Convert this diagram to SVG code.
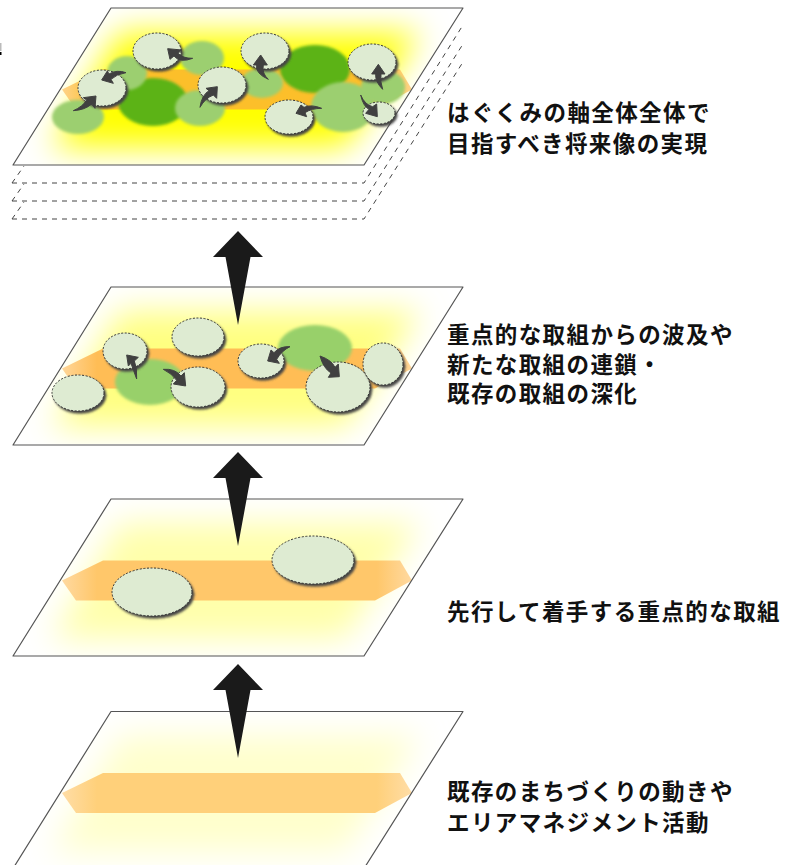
<svg xmlns="http://www.w3.org/2000/svg" width="800" height="865" viewBox="0 0 800 865">
<style>
.plane{fill:#fff;stroke:none}
.outline{fill:none;stroke:#555;stroke-width:1.2;stroke-linejoin:round}
.stack{fill:none;stroke:#444;stroke-width:1;stroke-dasharray:5 5}
.pale{fill:#deebd2;stroke:#333;stroke-width:1;stroke-dasharray:2 1.6;filter:url(#shadow)}
.lg{fill:#9ccf70;filter:url(#soft)}
.lg2{fill:#98d06a;filter:url(#soft)}
.dg{fill:#5bb318;filter:url(#soft)}
.glow{filter:url(#blur)}
.curve{fill:#404040;stroke:#404040;stroke-width:3;stroke-linejoin:round}
.big{fill:#1a1a1a}
text{font-family:"Noto Sans CJK JP","Noto Sans",sans-serif;font-weight:700;font-size:22.5px;letter-spacing:1.4px;fill:#111}
</style>
<defs>
<filter id="blur" x="-30%" y="-50%" width="160%" height="200%"><feGaussianBlur stdDeviation="16"/></filter>
<filter id="soft" x="-20%" y="-20%" width="140%" height="140%"><feGaussianBlur stdDeviation="1.6"/></filter>
<filter id="shadow" x="-20%" y="-20%" width="150%" height="150%"><feDropShadow dx="2" dy="2.4" stdDeviation="1" flood-color="#444"/></filter>
<clipPath id="pclip"><polygon points="111,0 463,0 364,157 13,157"/></clipPath>
<polygon id="glowshape" points="120,24 420,24 345,140 52,140"/>
<polygon id="band" points="103,61.5 400,61.5 412,81.5 375,101.5 76,101.5 62,81.5"/>
<linearGradient id="b1" x1="62" x2="412" y1="0" y2="0" gradientUnits="userSpaceOnUse"><stop offset="0" stop-color="#ffd38a"/><stop offset=".1" stop-color="#fcbf2a"/><stop offset=".9" stop-color="#fcbf2a"/><stop offset="1" stop-color="#ffd38a"/></linearGradient>
<linearGradient id="b2" x1="62" x2="412" y1="0" y2="0" gradientUnits="userSpaceOnUse"><stop offset="0" stop-color="#ffd699"/><stop offset=".1" stop-color="#ffbd55"/><stop offset=".9" stop-color="#ffbd55"/><stop offset="1" stop-color="#ffd699"/></linearGradient>
<linearGradient id="b3" x1="62" x2="412" y1="0" y2="0" gradientUnits="userSpaceOnUse"><stop offset="0" stop-color="#ffd9a0"/><stop offset=".1" stop-color="#ffc76a"/><stop offset=".9" stop-color="#ffc76a"/><stop offset="1" stop-color="#ffd9a0"/></linearGradient>
<linearGradient id="b4" x1="62" x2="412" y1="0" y2="0" gradientUnits="userSpaceOnUse"><stop offset="0" stop-color="#ffdda6"/><stop offset=".1" stop-color="#ffd07a"/><stop offset=".9" stop-color="#ffd07a"/><stop offset="1" stop-color="#ffdda6"/></linearGradient>
<polygon id="bigarrow" points="0,0 25,26 12.5,26 0,94 -12.5,26 -25,26"/>
</defs>

<g id="stray-mark"><rect x="0" y="43" width="1.5" height="8" fill="#bbb"/><rect x="0" y="52" width="1.5" height="3" fill="#000"/></g>

<g id="plane-top">
<path class="stack" d="M12,183L24,166M12,183H364L463,25"/>
<path class="stack" d="M12,201L24,184M12,201H364L463,44"/>
<path class="stack" d="M12,219L24,202M12,219H364L463,62"/>
<polygon class="plane" points="111,8 463,8 364,165 13,165"/>
<g transform="translate(0,8)"><g clip-path="url(#pclip)"><use href="#glowshape" class="glow" fill="#ffff00"/></g><use href="#band" fill="url(#b1)"/></g>
<polygon class="outline" points="111,8 463,8 364,165 13,165"/>
<ellipse class="dg" cx="153" cy="102" rx="35" ry="24"/>
<ellipse class="dg" cx="315" cy="69" rx="35" ry="24"/>
<ellipse class="lg" cx="78" cy="117" rx="26" ry="17"/>
<ellipse class="lg" cx="127" cy="73" rx="20" ry="17"/>
<ellipse class="lg" cx="202" cy="58" rx="22" ry="17"/>
<ellipse class="lg" cx="200" cy="108" rx="25" ry="18"/>
<ellipse class="lg" cx="262" cy="83" rx="21" ry="15"/>
<ellipse class="lg" cx="343" cy="107" rx="32" ry="25"/>
<ellipse class="lg" cx="383" cy="87" rx="22" ry="17"/>
<ellipse class="pale" cx="157" cy="51" rx="24" ry="18"/>
<ellipse class="pale" cx="102" cy="88" rx="24" ry="18"/>
<ellipse class="pale" cx="222" cy="85" rx="24" ry="18"/>
<ellipse class="pale" cx="265" cy="51" rx="24" ry="18"/>
<ellipse class="pale" cx="372" cy="62" rx="24" ry="18"/>
<ellipse class="pale" cx="289" cy="117" rx="24" ry="17"/>
<ellipse class="pale" cx="379" cy="113" rx="16" ry="11"/>
<text x="447" y="121">はぐくみの軸全体全体で</text>
<text x="447" y="152">目指すべき将来像の実現</text>
</g>

<g id="plane-2">
<polygon class="plane" points="111,287 463,287 364,445 13,445"/>
<g transform="translate(0,287)"><g clip-path="url(#pclip)"><use href="#glowshape" class="glow" fill="#ffff80"/></g><use href="#band" fill="url(#b2)"/></g>
<polygon class="outline" points="111,287 463,287 364,445 13,445"/>
<ellipse class="lg2" cx="150" cy="382" rx="35" ry="23"/>
<ellipse class="lg2" cx="315" cy="348" rx="37" ry="23"/>
<ellipse class="pale" cx="78" cy="393" rx="26" ry="18"/>
<ellipse class="pale" cx="198" cy="337" rx="26" ry="19"/>
<ellipse class="pale" cx="125" cy="351" rx="22" ry="18"/>
<ellipse class="pale" cx="198" cy="387" rx="27" ry="20"/>
<ellipse class="pale" cx="261" cy="361" rx="23" ry="17"/>
<ellipse class="pale" cx="338" cy="387" rx="32" ry="25"/>
<ellipse class="pale" cx="383" cy="364" rx="20" ry="21"/>
<text x="447" y="343">重点的な取組からの波及や</text>
<text x="447" y="372.5">新たな取組の連鎖・</text>
<text x="447" y="402">既存の取組の深化</text>
</g>

<g id="plane-3">
<polygon class="plane" points="111,499 463,499 364,656 13,656"/>
<g transform="translate(0,499)"><g clip-path="url(#pclip)"><use href="#glowshape" class="glow" fill="#ffffaa"/></g><use href="#band" fill="url(#b3)"/></g>
<polygon class="outline" points="111,499 463,499 364,656 13,656"/>
<ellipse class="pale" cx="152" cy="592" rx="40" ry="24"/>
<ellipse class="pale" cx="313" cy="560" rx="41" ry="24"/>
<text x="447" y="620">先行して着手する重点的な取組</text>
</g>

<g id="plane-4">
<polygon class="plane" points="111,711.5 463,711.5 364,868.5 13,868.5"/>
<g transform="translate(0,711.5)"><g clip-path="url(#pclip)"><use href="#glowshape" class="glow" fill="#ffffcc"/></g><use href="#band" fill="url(#b4)"/></g>
<polygon class="outline" points="111,711.5 463,711.5 364,868.5 13,868.5"/>
<text x="447" y="800">既存のまちづくりの動きや</text>
<text x="447" y="831">エリアマネジメント活動</text>
</g>

<g id="connectors">
<use href="#bigarrow" class="big" x="238" y="231"/>
<use href="#bigarrow" class="big" x="238" y="452"/>
<use href="#bigarrow" class="big" x="238" y="664"/>
<g transform="scale(.33333)" class="curve">
<path d="M578,175Q540,190 522,168L510,178L503,146L545,150L534,160Q548,175 578,175Z"/>
<path d="M378,218Q350,208 327,222L322,213L305,240L340,250L333,238Q350,222 378,218Z"/>
<path d="M220,332Q248,320 260,300L250,293L288,288L285,325L275,312Q255,330 220,332Z"/>
<path d="M600,322Q605,285 627,272L618,265L652,260L650,295L640,285Q615,295 600,322Z"/>
<path d="M805,238Q765,220 770,195L760,195L782,165L802,195L790,195Q785,220 805,238Z"/>
<path d="M1148,268Q1125,245 1127,222L1115,222L1135,193L1155,222L1143,222Q1140,245 1148,268Z"/>
<path d="M965,325Q935,312 912,322L903,315L888,340L920,350L915,338Q935,325 965,325Z"/>
<path d="M1082,285Q1090,320 1107,328L1097,340L1132,350L1130,312L1118,320Q1095,315 1082,285Z"/>
</g>
<g transform="translate(0,280) scale(.33333)" class="curve">
<path d="M410,297Q412,265 403,243L415,232L380,225L385,258L393,250Q400,270 410,297Z"/>
<path d="M490,268Q525,265 543,288L553,278L557,318L520,312L530,301Q515,280 490,268Z"/>
<path d="M870,200Q840,198 822,218L813,210L803,243L838,250L830,238Q845,212 870,200Z"/>
<path d="M960,228Q995,240 1005,262L1015,252L1018,290L985,292L993,279Q970,265 960,228Z"/>
</g>
</g>
</svg>
